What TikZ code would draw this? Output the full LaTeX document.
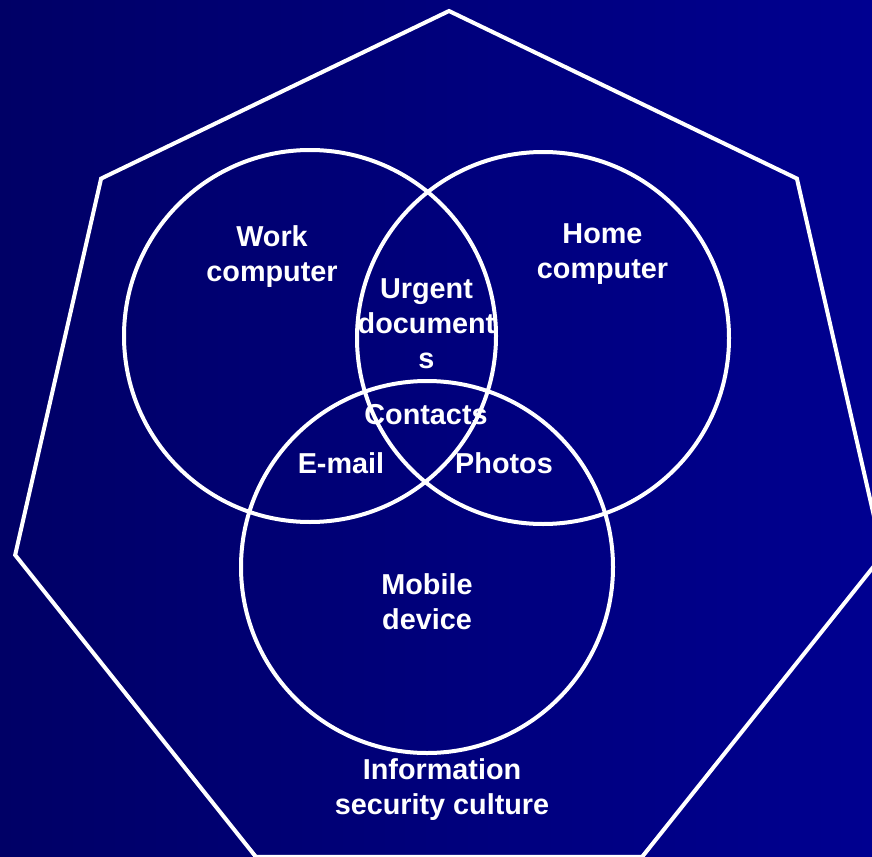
\documentclass[tikz,border=0pt]{standalone}
\usepackage{fontspec}
\setmainfont{Liberation Sans}
\usepackage{tikz}
\definecolor{navyleft}{RGB}{0,0,102}
\definecolor{navyright}{RGB}{0,0,144}

\begin{document}
\begin{tikzpicture}[x=1pt,y=-1pt,
        ring/.style={white, line width=4pt},
        lbl/.style={text=white, inner sep=0pt, align=center,
            font=\bfseries\fontsize{28.8}{35}\selectfont}]
        \useasboundingbox (0,0) rectangle (872,856);
        \clip (0,0) rectangle (872,856);
        \shade[left color=navyleft, right color=navyright] (0,0) rectangle (872,856);
        % outer heptagon
        \begin{scope}[shift={(449,456)}]
            \draw[ring, line join=miter] (90:445pt)
                \foreach \i in {1,...,6}{ -- ({90+\i*360/7}:445pt) } -- cycle;
        \end{scope}
        % three sets
        \draw[ring] (310,336) circle[radius=186pt];
        \draw[ring] (543,338) circle[radius=186pt];
        \draw[ring] (427,567) circle[radius=186pt];
        % labels
        \node[lbl] (work) at (272,257) {Work\\computer};
        \node[lbl] (home) at (602.5,254) {Home\\computer};
        \node[lbl] (urgent) at (426.5,324) {Urgent\\document\\s};
        \node[lbl] (contacts) at (426,415) {Contacts};
        \node[lbl] (email) at (341,463) {E-mail};
        \node[lbl] (photos) at (504,463) {Photos};
        \node[lbl] (mobile) at (427,602) {Mobile\\device};
        \node[lbl] (culture) at (442,790) {Information\\security culture};
    \end{tikzpicture}
\end{document}
